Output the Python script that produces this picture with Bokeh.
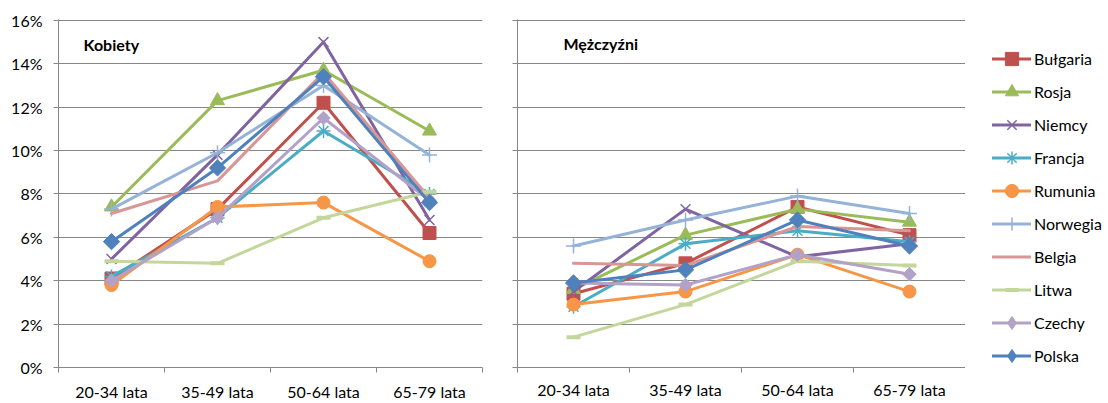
import math

from bokeh.embed import file_html
from bokeh.layouts import row
from bokeh.models import (ColumnDataSource, CustomJSTickFormatter, FixedTicker,
                          Label, Legend, LegendItem, PrintfTickFormatter, Range1d)
from bokeh.plotting import figure
from bokeh.resources import INLINE

# Age groups on the x axis
age_groups = ["20-34 lata", "35-49 lata", "50-64 lata", "65-79 lata"]

# Share (%) per age group – women
bulgaria_women = [4.1, 7.3, 12.2, 6.2]
rosja_women = [7.4, 12.3, 13.7, 10.9]
niemcy_women = [5.0, 9.8, 15.0, 6.8]
francja_women = [4.2, 6.9, 10.9, 8.0]
rumunia_women = [3.8, 7.4, 7.6, 4.9]
norwegia_women = [7.3, 9.9, 13.0, 9.8]
belgia_women = [7.1, 8.6, 13.6, 7.8]
litwa_women = [4.9, 4.8, 6.9, 8.1]
czechy_women = [4.0, 6.9, 11.5, 7.7]
polska_women = [5.8, 9.2, 13.4, 7.6]

# Share (%) per age group – men
bulgaria_men = [3.4, 4.8, 7.4, 6.1]
rosja_men = [3.6, 6.1, 7.3, 6.7]
niemcy_men = [3.5, 7.3, 5.1, 5.7]
francja_men = [2.8, 5.7, 6.3, 5.8]
rumunia_men = [2.9, 3.5, 5.2, 3.5]
norwegia_men = [5.6, 6.8, 7.9, 7.1]
belgia_men = [4.8, 4.7, 6.5, 6.3]
litwa_men = [1.4, 2.9, 4.9, 4.7]
czechy_men = [3.9, 3.8, 5.2, 4.3]
polska_men = [3.9, 4.5, 6.8, 5.6]

y_ticks = [0, 2, 4, 6, 8, 10, 12, 14, 16]

FONT = "Lato"
GRID = "#868686"
DIAMOND = math.pi / 4

# name, colour, marker layers (marker, size, angle, outline width), women, men
series = [
    ("Bułgaria", "#C0504D", [("square", 13, 0, 1)], bulgaria_women, bulgaria_men),
    ("Rosja", "#9BBB59", [("triangle", 14, 0, 1)], rosja_women, rosja_men),
    ("Niemcy", "#8064A2", [("x", 14, 0, 1.5)], niemcy_women, niemcy_men),
    ("Francja", "#4BACC6", [("asterisk", 14, 0, 1.5)], francja_women, francja_men),
    ("Rumunia", "#F79646", [("circle", 13, 0, 1)], rumunia_women, rumunia_men),
    ("Norwegia", "#95B3D7", [("cross", 15, 0, 1.5)], norwegia_women, norwegia_men),
    ("Belgia", "#D99694", [], belgia_women, belgia_men),
    ("Litwa", "#C3D69B", [("dash", 14, 0, 4)], litwa_women, litwa_men),
    ("Czechy", "#B3A2C7", [("square", 9.5, DIAMOND, 1)], czechy_women, czechy_men),
    ("Polska", "#4F81BD", [("square", 11.5, DIAMOND, 1)], polska_women, polska_men),
]


def make_panel(width, border_left, border_right, border_top, border_bottom,
               with_labels, label_standoff):
    p = figure(width=width, height=403, output_backend="svg", toolbar_location=None,
               x_range=Range1d(0, len(age_groups)), y_range=Range1d(0, 16.04),
               min_border_left=border_left, min_border_right=border_right,
               min_border_top=border_top, min_border_bottom=border_bottom,
               outline_line_color=None, background_fill_color="white",
               border_fill_color="white")
    centers = [i + 0.5 for i in range(len(age_groups))]
    p.xaxis.ticker = FixedTicker(ticks=centers,
                                 minor_ticks=list(range(len(age_groups) + 1)))
    p.xaxis.major_label_overrides = {c: lab for c, lab in zip(centers, age_groups)}
    p.xaxis.major_tick_line_color = None
    p.xaxis.minor_tick_in = 0
    p.xaxis.minor_tick_out = 5
    p.xaxis.minor_tick_line_color = GRID
    p.xaxis.major_label_standoff = label_standoff
    p.yaxis.ticker = FixedTicker(ticks=y_ticks)
    p.yaxis.major_tick_in = 0
    p.yaxis.major_tick_out = 5
    p.yaxis.major_tick_line_color = GRID
    p.yaxis.minor_tick_line_color = None
    if with_labels:
        p.yaxis.formatter = PrintfTickFormatter(format="%d%%")
        p.yaxis.major_label_standoff = 11
    else:
        p.yaxis.formatter = CustomJSTickFormatter(code="return ''")
        p.yaxis.major_label_standoff = 0
    for ax in (p.xaxis[0], p.yaxis[0]):
        ax.axis_line_color = GRID
        ax.axis_line_width = 1
        ax.major_label_text_font = FONT
        ax.major_label_text_font_size = "16px"
        ax.major_label_text_color = "#000000"
    p.xgrid.visible = False
    p.ygrid.ticker = FixedTicker(ticks=y_ticks)
    p.ygrid.grid_line_color = GRID
    p.ygrid.grid_line_width = 1
    return p, centers


def draw_series(p, centers, which, for_key=False):
    items = []
    for name, color, marks, women, men in series:
        values = women if which == "women" else men
        src = ColumnDataSource(dict(x=centers, y=values))
        rs = [p.line("x", "y", source=src, line_color=color, line_width=3,
                     line_join="round", line_cap="round")]
        for marker, size, angle, lw in marks:
            if for_key and angle == DIAMOND:
                # legend swatches ignore the rotation, so use the diamond glyph
                marker, angle = "diamond", 0
            rs.append(p.scatter("x", "y", source=src, marker=marker, size=size,
                                angle=angle, fill_color=color, line_color=color,
                                line_width=lw))
        items.append(LegendItem(label=name, renderers=rs))
    return items


left, c_left = make_panel(500, 58, 18, 18, 34, True, 8)
draw_series(left, c_left, "women")
left.add_layout(Label(x=0.236, y=14.9, text="Kobiety", text_font=FONT,
                      text_font_size="16px", text_font_style="bold",
                      text_baseline="middle", text_color="#000000"))

right, c_right = make_panel(465, 17, 0, 19, 31, False, 6)
draw_series(right, c_right, "men")
right.add_layout(Label(x=0.41, y=14.95, text="Mężczyźni", text_font=FONT,
                       text_font_size="16px", text_font_style="bold",
                       text_baseline="middle", text_color="#000000"))

# Legend strip: the key's swatches come from a copy of the series whose
# data sit outside this strip's ranges, so only the legend is visible.
key = figure(width=143, height=403, output_backend="svg", toolbar_location=None,
             x_range=Range1d(100, 101), y_range=Range1d(100, 101),
             x_axis_type=None, y_axis_type=None, outline_line_color=None,
             min_border_left=0, min_border_right=0, min_border_top=0,
             min_border_bottom=0, background_fill_color="white",
             border_fill_color="white")
key.xgrid.visible = False
key.ygrid.visible = False
legend_items = draw_series(key, c_right, "men", for_key=True)

legend = Legend(items=legend_items, location=(27, -5), orientation="vertical",
                glyph_width=39, glyph_height=33, label_height=33, spacing=0,
                padding=0, margin=0, label_standoff=3,
                label_text_font=FONT, label_text_font_size="16px",
                label_text_color="#000000", border_line_color=None,
                background_fill_alpha=0)
key.add_layout(legend, "center")

layout = row(left, right, key, spacing=0)

with open("out.html", "w") as f:
    f.write(file_html(layout, INLINE))
